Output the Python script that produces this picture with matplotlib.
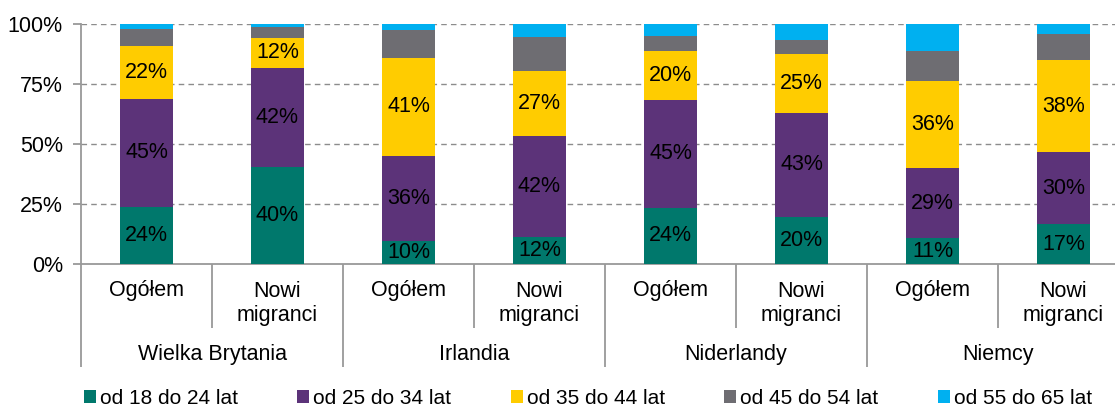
import matplotlib
matplotlib.use("Agg")
import matplotlib.pyplot as plt
from matplotlib.patches import Patch
import numpy as np

plt.rcParams['font.family'] = ['Liberation Sans', 'DejaVu Sans']

countries = ["Wielka Brytania", "Irlandia", "Niderlandy", "Niemcy"]
groups = ["Ogółem", "Nowi\nmigranci"]
series_names = ["od 18 do 24 lat", "od 25 do 34 lat", "od 35 do 44 lat",
                "od 45 do 54 lat", "od 55 do 65 lat"]
age_18_24 = [23.9, 40.4, 9.6, 11.5, 23.6, 19.8, 10.8, 16.7]
age_25_34 = [45.1, 41.5, 35.6, 42.1, 45.0, 43.2, 29.3, 30.1]
age_35_44 = [22.1, 12.3, 40.9, 27.1, 20.4, 24.6, 36.4, 38.3]
age_45_54 = [7.1, 4.8, 11.5, 13.9, 6.3, 5.9, 12.4, 11.0]
age_55_65 = [1.8, 1.0, 2.4, 5.4, 4.7, 6.5, 11.1, 3.9]
labelled = [True, True, True, False, False]
colors = ["#00786C", "#5C3379", "#FFCC00", "#6E6D72", "#00B0F0"]
y_ticks = [0, 25, 50, 75, 100]

series = [age_18_24, age_25_34, age_35_44, age_45_54, age_55_65]

W, H = 1115, 409
fig = plt.figure(figsize=(W / 100, H / 100), dpi=100)
ax_left, ax_right = 81, 1129
ax_bottom_px, ax_top_px = 264.3, 24.3
ax = fig.add_axes([ax_left / W, (H - ax_bottom_px) / H,
                   (ax_right - ax_left) / W, (ax_bottom_px - ax_top_px) / H])

n = len(age_18_24)
x = np.arange(n)
bottom = np.zeros(n)
fs = 15.5
for vals, col, name, lab in zip(series, colors, series_names, labelled):
    v = np.array(vals)
    ax.bar(x, v, width=0.4, bottom=bottom, color=col, label=name, zorder=3,
           edgecolor='none')
    if lab:
        for xi, b, h in zip(x, bottom, v):
            ax.text(xi, b + h / 2, f"{h:.0f}%", ha='center', va='center',
                    fontsize=fs, color='black', zorder=4)
    bottom += v

ax.set_xlim(-0.5, n - 0.5)
ax.set_ylim(0, 100)
ax.set_yticks(y_ticks)
ax.set_yticklabels([f"{t}%" for t in y_ticks], fontsize=fs)
ax.set_xticks([])
grid_col = "#8C8C8C"
for t in y_ticks[1:]:
    ax.axhline(t, color=grid_col, lw=1.0, ls=(0, (4, 3)), zorder=1)
for s in ['top', 'right']:
    ax.spines[s].set_visible(False)
for s in ['left', 'bottom']:
    ax.spines[s].set_color("#999999")
    ax.spines[s].set_linewidth(1.3)
ax.tick_params(axis='y', length=6, width=1.3, color="#999999", pad=7)

trans = ax.get_xaxis_transform()
# dividers
for i in range(n + 1):
    xb = i - 0.5
    yend = -0.428 if i % 2 == 0 else -0.265
    ax.plot([xb, xb], [0, yend], transform=trans, color="#999999", lw=1.3,
            clip_on=False, solid_capstyle='butt')

for i in range(n):
    g = groups[i % 2]
    if i % 2 == 0:
        ax.text(i, -0.111, g, transform=trans, ha='center', va='center', fontsize=fs)
    else:
        ax.text(i, -0.165, g, transform=trans, ha='center', va='center',
                fontsize=fs, linespacing=1.2)
for j, c in enumerate(countries):
    ax.text(2 * j + 0.5, -0.374, c, transform=trans, ha='center', va='center',
            fontsize=fs)

lfs = 15
handles = [Patch(facecolor=c, edgecolor='none') for c in colors]
fig.legend(handles, series_names, loc='center left',
           bbox_to_anchor=(84 / W, (H - 398) / H), ncol=5, frameon=False,
           fontsize=lfs, handlelength=0.57, handleheight=0.57, handletextpad=0.2,
           columnspacing=2.85, borderpad=0, borderaxespad=0)

fig.savefig("out.png", dpi=100)
